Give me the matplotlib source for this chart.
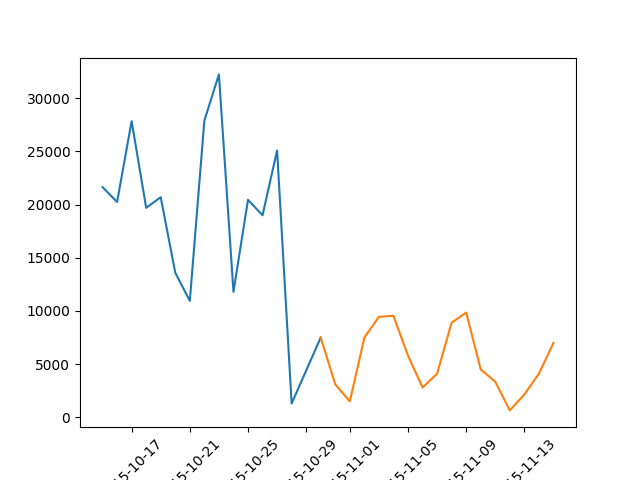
import numpy as np
import pandas as pd
import matplotlib as mpl
mpl.use("Agg")
import matplotlib.pyplot as plt
import matplotlib.dates as mdates

# data
hist_dates = pd.date_range("2015-10-15", "2015-10-30", freq="D")
hist_vals = [21650, 20250, 27850, 19700, 20700, 13600, 10950, 27900,
             32250, 11800, 20450, 19000, 25100, 1300, 4400, 7500]
pred_dates = pd.date_range("2015-10-30", "2015-11-15", freq="D")
pred_vals = [7500, 3100, 1500, 7500, 9450, 9550, 5800, 2800, 4100,
             8900, 9850, 4500, 3350, 650, 2150, 4100, 7000]

fig, ax = plt.subplots(figsize=(6.4, 4.8), dpi=100)
ax.plot(hist_dates, hist_vals)
ax.plot(pred_dates, pred_vals)

ax.xaxis.set_major_locator(mdates.DayLocator(bymonthday=[1, 5, 9, 13, 17, 21, 25, 29]))
ax.xaxis.set_major_formatter(mdates.DateFormatter("%Y-%m-%d"))
plt.xticks(rotation=45)

fig.savefig("out.png")
